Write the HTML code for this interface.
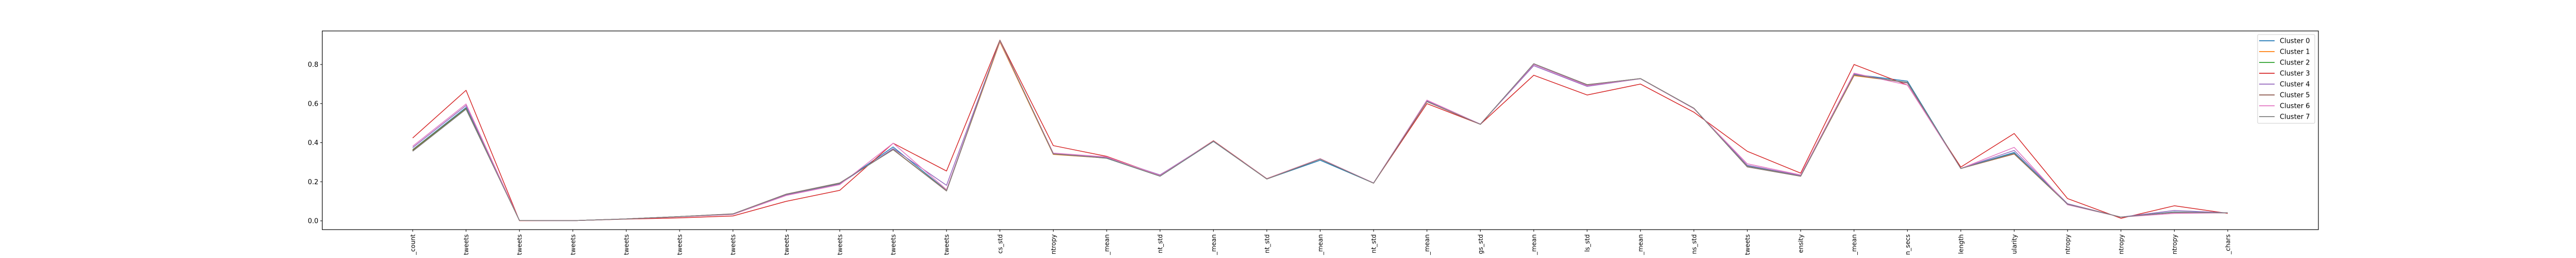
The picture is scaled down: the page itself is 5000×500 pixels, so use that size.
<!DOCTYPE html>
<html><head><meta charset="utf-8"><style>
html,body{margin:0;padding:0;background:#fff;width:5000px;height:500px;overflow:hidden;}
svg{display:block;overflow:hidden;font-family:"DejaVu Sans","Liberation Sans",sans-serif;}
</style></head><body>
<svg id="chart" width="5000" height="500" viewBox="0 0 5000 500" xmlns="http://www.w3.org/2000/svg">
<rect x="0" y="0" width="5000" height="500" fill="#fff"/>
<g id="root">
<g id="plot"></g>
<rect x="625.5" y="60" width="3874.5" height="385" fill="none" stroke="#000" stroke-width="1.2"/>
<g id="legend"></g>
</g>
</svg>
<script>
const categories = ["_count","tweets","tweets","tweets","tweets","tweets","tweets","tweets","tweets","tweets","tweets","cs_std","ntropy","_mean","nt_std","_mean","nt_std","_mean","nt_std","_mean","gs_std","_mean","ls_std","_mean","ns_std","tweets","ensity","_mean","n_secs","length","ularity","ntropy","ntropy","ntropy","_chars"];
const yTicks = [0.0, 0.2, 0.4, 0.6, 0.8];
const seriesNames = ["Cluster 0","Cluster 1","Cluster 2","Cluster 3","Cluster 4","Cluster 5","Cluster 6","Cluster 7"];
const colors = ["#1f77b4","#ff7f0e","#2ca02c","#d62728","#9467bd","#8c564b","#e377c2","#7f7f7f"];
const cluster0 = [0.365,0.580,0.002,0.001,0.010,0.022,0.034,0.133,0.190,0.378,0.156,0.922,0.344,0.320,0.228,0.406,0.214,0.310,0.193,0.612,0.494,0.800,0.693,0.727,0.576,0.280,0.230,0.750,0.715,0.268,0.350,0.086,0.019,0.046,0.041];
const cluster1 = [0.362,0.575,0.002,0.001,0.010,0.022,0.035,0.135,0.192,0.366,0.155,0.915,0.340,0.321,0.229,0.407,0.214,0.316,0.193,0.612,0.494,0.802,0.695,0.728,0.576,0.278,0.229,0.743,0.708,0.268,0.342,0.085,0.019,0.044,0.041];
const cluster2 = [0.360,0.574,0.002,0.001,0.010,0.022,0.035,0.135,0.192,0.365,0.154,0.922,0.343,0.321,0.229,0.407,0.214,0.316,0.193,0.611,0.494,0.803,0.696,0.728,0.576,0.277,0.229,0.747,0.708,0.268,0.345,0.085,0.019,0.044,0.041];
const cluster3 = [0.424,0.668,0.001,0.001,0.009,0.015,0.025,0.100,0.156,0.397,0.255,0.925,0.385,0.330,0.232,0.410,0.216,0.318,0.193,0.600,0.494,0.745,0.644,0.700,0.556,0.356,0.244,0.800,0.695,0.275,0.447,0.114,0.013,0.077,0.038];
const cluster4 = [0.375,0.590,0.002,0.001,0.010,0.021,0.033,0.132,0.188,0.370,0.182,0.921,0.345,0.325,0.235,0.408,0.215,0.317,0.194,0.614,0.495,0.794,0.688,0.727,0.575,0.285,0.232,0.752,0.705,0.268,0.360,0.088,0.019,0.053,0.041];
const cluster5 = [0.358,0.572,0.002,0.001,0.010,0.022,0.036,0.137,0.194,0.364,0.153,0.922,0.342,0.321,0.229,0.407,0.214,0.316,0.193,0.610,0.494,0.804,0.697,0.728,0.576,0.276,0.228,0.746,0.707,0.268,0.343,0.085,0.019,0.043,0.041];
const cluster6 = [0.382,0.598,0.002,0.001,0.010,0.021,0.033,0.130,0.185,0.397,0.160,0.920,0.347,0.327,0.232,0.408,0.215,0.318,0.194,0.618,0.495,0.800,0.692,0.727,0.574,0.292,0.235,0.756,0.695,0.268,0.376,0.082,0.019,0.038,0.041];
const cluster7 = [0.356,0.571,0.002,0.001,0.010,0.022,0.035,0.136,0.193,0.365,0.154,0.923,0.343,0.321,0.229,0.407,0.214,0.316,0.193,0.611,0.494,0.804,0.696,0.728,0.576,0.277,0.229,0.747,0.708,0.268,0.345,0.085,0.019,0.044,0.041];
const allSeries = [cluster0,cluster1,cluster2,cluster3,cluster4,cluster5,cluster6,cluster7];

const NS = "http://www.w3.org/2000/svg";
const X0 = 801, X1 = 4324, Y0 = 428, Y08 = 125;
function xScale(i){ return X0 + i*(X1-X0)/(categories.length-1); }
function yScale(v){ return Y0 - v*(Y0-Y08)/0.8; }
function mk(tag, attrs){ const e=document.createElementNS(NS,tag); for(const k in attrs) e.setAttribute(k,attrs[k]); return e; }

const svg = document.getElementById('root');
const plot = document.getElementById('plot');

yTicks.forEach(function(t){
  const y = yScale(t);
  const tk = mk('line',{x1:621.5,x2:625.5,y1:y,y2:y,stroke:'#000','stroke-width':1});
  
  
  svg.appendChild(tk);
  const tx = mk('text',{x:618,y:y+4.5,'text-anchor':'end','font-size':13,fill:'#000'});
  
  
  tx.textContent = t.toFixed(1);
  svg.appendChild(tx);
});

categories.forEach(function(c,i){
  const x = xScale(i);
  const tk = mk('line',{x1:x,x2:x,y1:445,y2:449,stroke:'#000','stroke-width':1});
  
  
  svg.appendChild(tk);
  const tx = mk('text',{x:0,y:0,'text-anchor':'end','font-size':12,fill:'#000',transform:'translate('+(x+4.5)+',454) rotate(-90)'});
  
  
  tx.textContent = c;
  svg.appendChild(tx);
});

allSeries.forEach(function(s,k){
  const pts = s.map(function(v,i){ return xScale(i).toFixed(1)+','+yScale(v).toFixed(1); }).join(' ');
  const pl = mk('polyline',{points:pts,fill:'none',stroke:colors[k],'stroke-width':1.5,'stroke-linejoin':'round'});
  
  
  plot.appendChild(pl);
});

const lg = document.getElementById('legend');
const box = mk('rect',{x:4382,y:67,width:111,height:172,rx:2,fill:'#fff',stroke:'#ccc','stroke-width':1});


lg.appendChild(box);
seriesNames.forEach(function(n,k){
  const y = 79 + k*21;
  const g = mk('g',{});
  
  
  g.appendChild(mk('line',{x1:4385,x2:4415,y1:y,y2:y,stroke:colors[k],'stroke-width':1.8}));
  const t = mk('text',{x:4425,y:y+4.5,'font-size':13,fill:'#000'});
  t.textContent = n;
  g.appendChild(t);
  lg.appendChild(g);
});
</script>
</body></html>
